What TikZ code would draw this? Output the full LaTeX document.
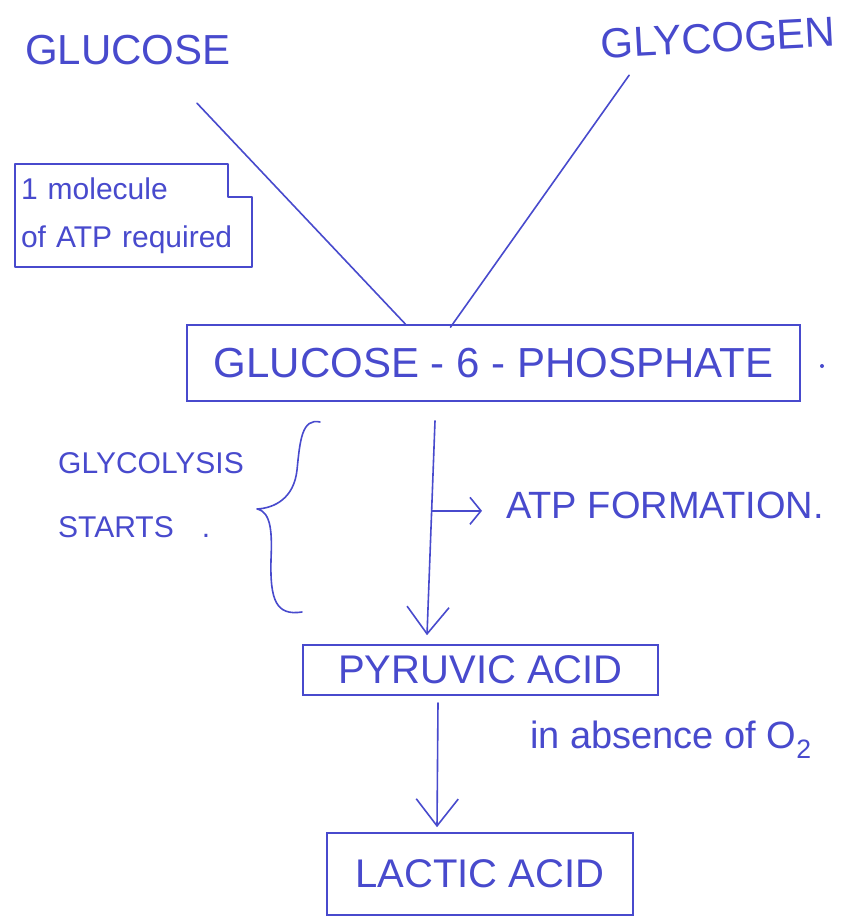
\documentclass[tikz,border=0pt]{standalone}
\usepackage{fontspec}
\setmainfont{Liberation Sans}
\usetikzlibrary{arrows.meta,calc}
\definecolor{pen}{RGB}{72,74,205}
\begin{document}
\begin{tikzpicture}[x=1pt,y=-1pt,
  every node/.style={text=pen, inner sep=0pt},
  box/.style={draw=pen, line width=1.6pt, rectangle},
  link/.style={draw=pen, line width=1.6pt, line cap=round, line join=round},
  bigarr/.style={link, -{Straight Barb[length=27pt,width=42pt]}},
  smallarr/.style={link, -{Straight Barb[length=11pt,width=27pt]}}]
\useasboundingbox[fill=white] (0,0) rectangle (852,924);

\node[font=\fontsize{42}{42}\selectfont, minimum height=50pt] (glucose) at (128,50) {GLUCOSE};
\node[font=\fontsize{42}{42}\selectfont, minimum height=44pt, rotate=3] (glycogen) at (718,38) {GLYCOGEN};

\node[minimum width=237pt, minimum height=103pt, font=\fontsize{30}{48}\selectfont, align=left, text width=225pt] (note) at (133.5,215.5) {1 molecule\\of ATP required};
\draw[link] (note.south west) -- (note.north west) -- ($(note.north east)+(-24,0)$)
  -- ($(note.north east)+(-24,33)$) -- ($(note.north east)+(0,33)$)
  -- (note.south east) -- cycle;

\node[box, minimum width=613pt, minimum height=76pt, font=\fontsize{42}{42}\selectfont] (g6p) at (493.5,363) {GLUCOSE - 6 - PHOSPHATE};
\fill[pen] (822,366) circle (2pt);

\node[font=\fontsize{30}{64}\selectfont, align=left, anchor=north west] (gly) at (58,452) {GLYCOLYSIS\\STARTS\hspace{28pt}.};

\node[font=\fontsize{38}{38}\selectfont, anchor=west] (atp) at (506,505) {ATP FORMATION.};

\node[box, minimum width=355pt, minimum height=50pt, font=\fontsize{40}{40}\selectfont] (pyr) at (480.5,670) {PYRUVIC ACID};

\node[font=\fontsize{38}{38}\selectfont, anchor=west] (absence) at (530,740) {in absence of O\textsubscript{2}};

\node[box, minimum width=306pt, minimum height=82pt, font=\fontsize{40}{40}\selectfont] (lac) at (480,874) {LACTIC ACID};

% connectors
\draw[link] ($(glucose.south)+(69,28)$) -- ($(g6p.north)+(-88,0)$);
\draw[link] ($(glycogen.south)+(-90,15)$) -- ($(g6p.north)+(-43,3)$);

\coordinate (s1) at ($(g6p.south)+(-58.5,19)$);
\coordinate (e1) at ($(pyr.north)+(-53.5,-9)$);
\draw[bigarr] (s1) -- (e1);
\coordinate (br) at ($(s1)!0.42!(e1)$);
\draw[smallarr] (br) -- ($(br -| atp.west)+(-24,0)$);

\draw[bigarr] ($(pyr.south)+(-42.5,7)$) -- ($(lac.north)+(-43,-5)$);

% brace
\draw[link] (320,422) .. controls (302,418) and (300,440) .. (297,470)
  .. controls (294,498) and (275,508) .. (257,509)
  .. controls (272,512) and (272,535) .. (271,560)
  .. controls (270,600) and (276,616) .. (302,612);
\end{tikzpicture}
\end{document}
